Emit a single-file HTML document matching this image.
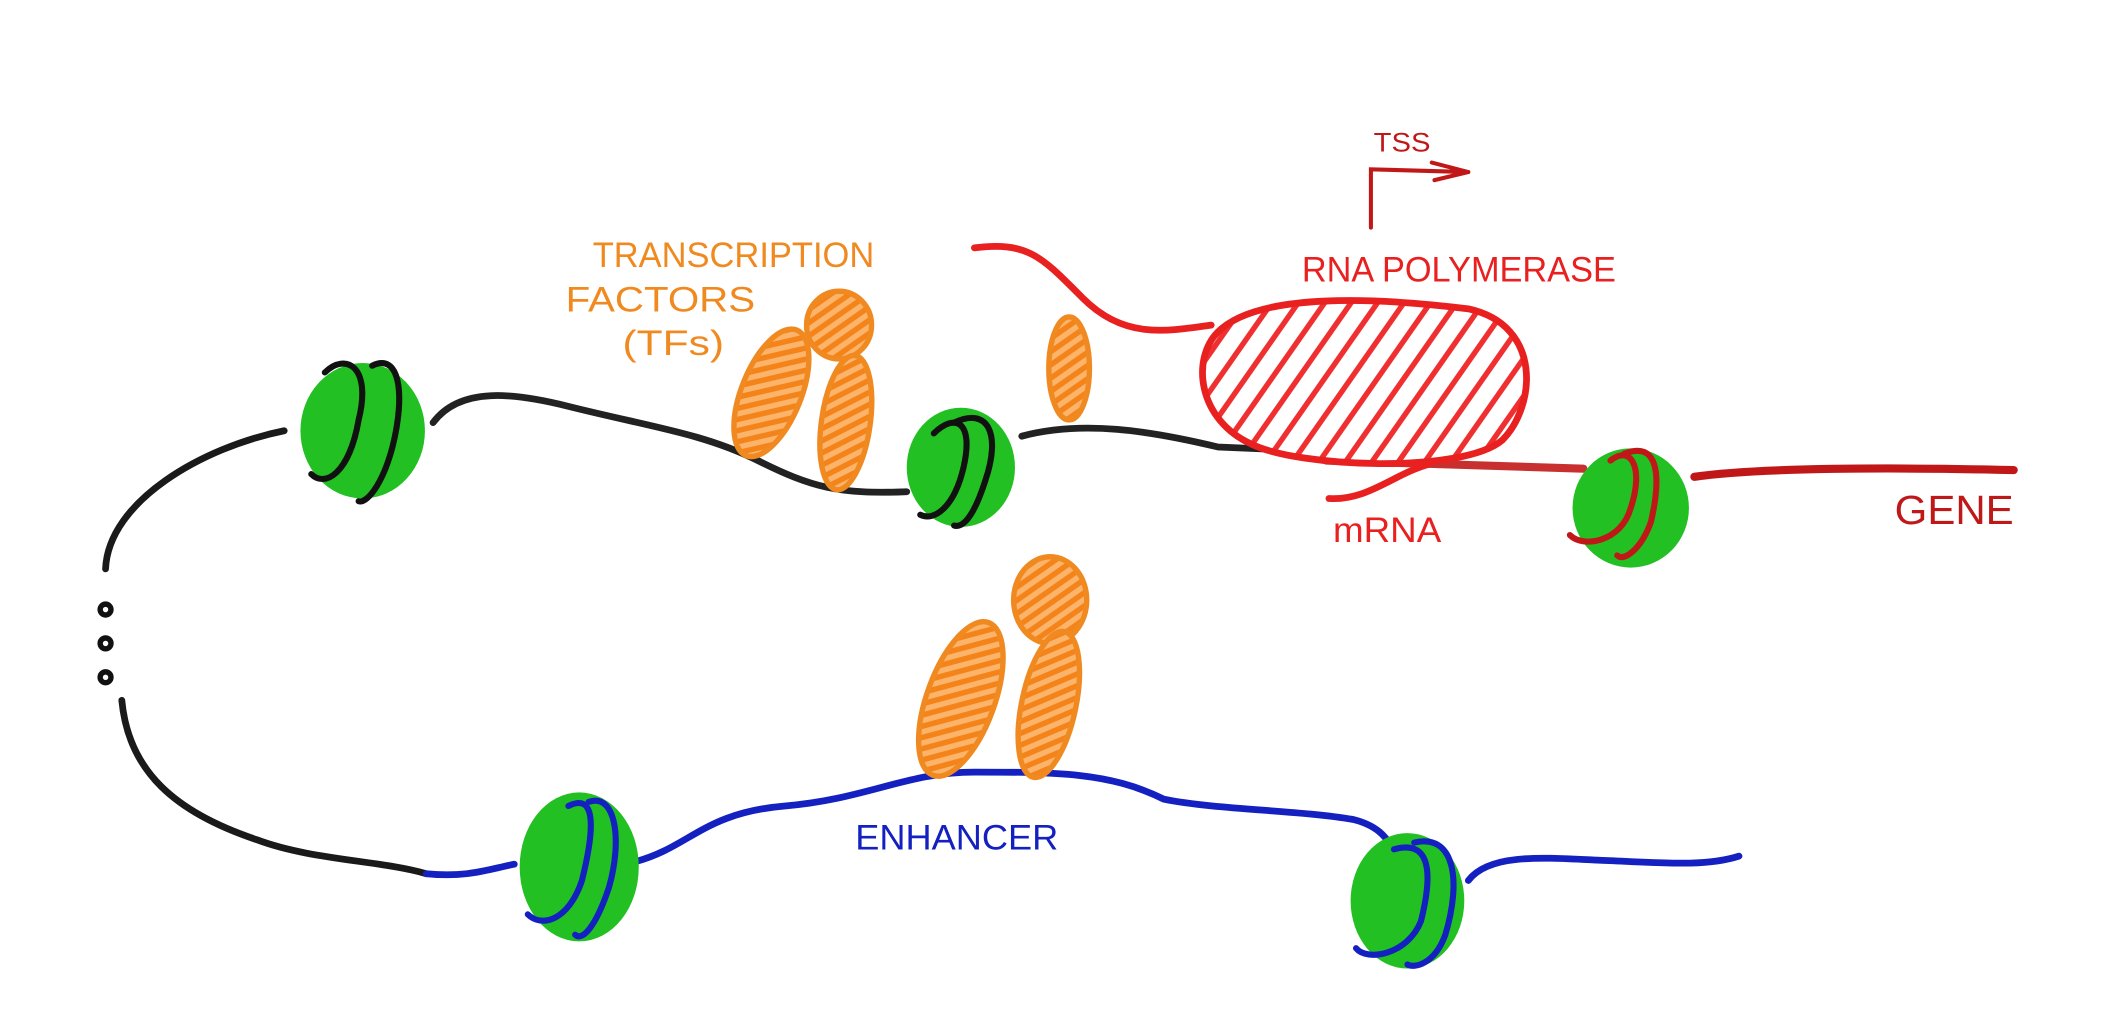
<!DOCTYPE html>
<html><head><style>
html,body{margin:0;padding:0;background:#fff;}
svg{display:block;}
text{font-family:"Liberation Sans Narrow","Liberation Sans",sans-serif;}
</style></head><body>
<svg width="2122" height="1020" viewBox="0 0 1568 753" preserveAspectRatio="none" xmlns="http://www.w3.org/2000/svg">
<defs>
<pattern id="hatch" patternUnits="userSpaceOnUse" width="16" height="16" patternTransform="rotate(35)">
<rect width="16" height="16" fill="#fff"/><rect x="0" y="0" width="4" height="16" fill="#f03030"/></pattern>
<pattern id="oh" patternUnits="userSpaceOnUse" width="8" height="8" patternTransform="rotate(-35)">
<rect width="8" height="8" fill="#fbb46a"/><rect width="8" height="4" fill="#f4841a"/></pattern>
</defs>
<g fill="none" stroke-linecap="round" stroke-width="5">
<path d="M210 318 C150 330 80 370 78 420" stroke="#1a1a1a"/>
<path d="M90 517 C95 570 130 600 190 620 C230 635 280 635 315 645" stroke="#1a1a1a"/>
<path d="M320 312 C340 285 380 290 420 300 C480 315 520 320 560 340 C600 360 620 365 670 363" stroke="#222"/>
<path d="M755 322 C800 310 850 318 900 330 L970 333" stroke="#222"/>
<path d="M720 183 C760 178 770 190 800 220 C830 250 860 245 895 240" stroke="#e82020"/>
<path d="M980 340 L1170 346" stroke="#c83030" stroke-width="6"/>
<path d="M1252 352 C1300 345 1400 345 1488 347" stroke="#c01818" stroke-width="6"/>
<path d="M982 368 C1010 370 1030 350 1055 343" stroke="#e82020"/>
<path d="M1013 168 L1013 125 L1085 127 M1058 120 L1085 127 L1060 133" stroke="#c01818" stroke-width="3"/>
<path d="M315 645 C345 648 360 642 380 638" stroke="#1420c0"/>
<path d="M470 636 C510 625 520 600 580 595 C640 590 670 570 720 570 C780 570 820 570 860 590 C900 598 960 598 1000 605 C1020 610 1025 620 1030 627" stroke="#1420c0"/>
<path d="M1085 650 C1100 630 1140 633 1180 635 C1230 637 1260 640 1285 632" stroke="#1420c0"/>
</g>
<g fill="#111"><circle cx="78" cy="450" r="6"/><circle cx="78" cy="475" r="6"/><circle cx="78" cy="500" r="6"/></g>
<g fill="#fff"><circle cx="78" cy="450" r="2"/><circle cx="78" cy="475" r="2"/><circle cx="78" cy="500" r="2"/></g>
<path d="M900 245 C930 215 1020 220 1085 228 C1140 240 1135 300 1110 325 C1080 350 960 345 925 328 C885 310 880 265 900 245 Z" fill="url(#hatch)" stroke="#e82020" stroke-width="5"/>
<g stroke="#f08a20" stroke-width="4" fill="url(#oh)">
<ellipse cx="570" cy="290" rx="22" ry="50" transform="rotate(22 570 290)"/>
<ellipse cx="620" cy="240" rx="24" ry="25"/>
<ellipse cx="625" cy="312" rx="18" ry="50" transform="rotate(8 625 312)"/>
<ellipse cx="790" cy="272" rx="15" ry="38"/>
<ellipse cx="710" cy="516" rx="25" ry="60" transform="rotate(20 710 516)"/>
<ellipse cx="776" cy="443" rx="27" ry="32"/>
<ellipse cx="775" cy="520" rx="20" ry="55" transform="rotate(12 775 520)"/>
</g>
<g fill="#22c022">
<ellipse cx="268" cy="318" rx="46" ry="50"/>
<ellipse cx="710" cy="345" rx="40" ry="44"/>
<ellipse cx="1205" cy="375" rx="43" ry="44"/>
<ellipse cx="428" cy="640" rx="44" ry="55"/>
<ellipse cx="1040" cy="665" rx="42" ry="50"/>
</g>
<g fill="none" stroke-width="4.5" stroke-linecap="round">
<path d="M240 275 C255 260 275 270 265 310 C258 350 240 360 230 350" stroke="#111"/>
<path d="M275 270 C295 260 300 290 290 330 C282 360 270 372 265 370" stroke="#111"/>
<path d="M690 320 C705 305 720 310 712 345 C705 375 690 385 680 380" stroke="#111"/>
<path d="M705 312 C730 300 740 320 728 355 C720 380 712 390 705 388" stroke="#111"/>
<path d="M1190 340 C1205 328 1215 345 1205 375 C1198 400 1170 405 1160 395" stroke="#c01818"/>
<path d="M1200 335 C1225 325 1228 350 1220 385 C1213 405 1200 415 1195 410" stroke="#c01818"/>
<path d="M420 595 C440 585 440 610 430 650 C420 680 400 685 390 675" stroke="#1420c0"/>
<path d="M435 592 C455 585 460 620 450 655 C440 685 430 695 425 690" stroke="#1420c0"/>
<path d="M1030 627 C1055 620 1060 640 1050 680 C1040 705 1010 710 1002 700" stroke="#1420c0"/>
<path d="M1045 622 C1075 615 1080 650 1068 690 C1060 712 1045 715 1040 712" stroke="#1420c0"/>
</g>
<g font-size="26">
<text x="438" y="197" fill="#f08a20" textLength="208" lengthAdjust="spacingAndGlyphs">TRANSCRIPTION</text>
<text x="418" y="230" fill="#f08a20" textLength="140" lengthAdjust="spacingAndGlyphs">FACTORS</text>
<text x="460" y="262" fill="#f08a20" textLength="75" lengthAdjust="spacingAndGlyphs">(TFs)</text>
<text x="962" y="208" fill="#e82020" textLength="232" lengthAdjust="spacingAndGlyphs">RNA POLYMERASE</text>
<text x="1015" y="112" fill="#c01818" font-size="20" textLength="42" lengthAdjust="spacingAndGlyphs">TSS</text>
<text x="985" y="400" fill="#e82020" textLength="80" lengthAdjust="spacingAndGlyphs">mRNA</text>
<text x="1400" y="387" fill="#c01818" font-size="30" textLength="88" lengthAdjust="spacingAndGlyphs">GENE</text>
<text x="632" y="627" fill="#1420c0" textLength="150" lengthAdjust="spacingAndGlyphs">ENHANCER</text>
</g>
</svg>
</body></html>
